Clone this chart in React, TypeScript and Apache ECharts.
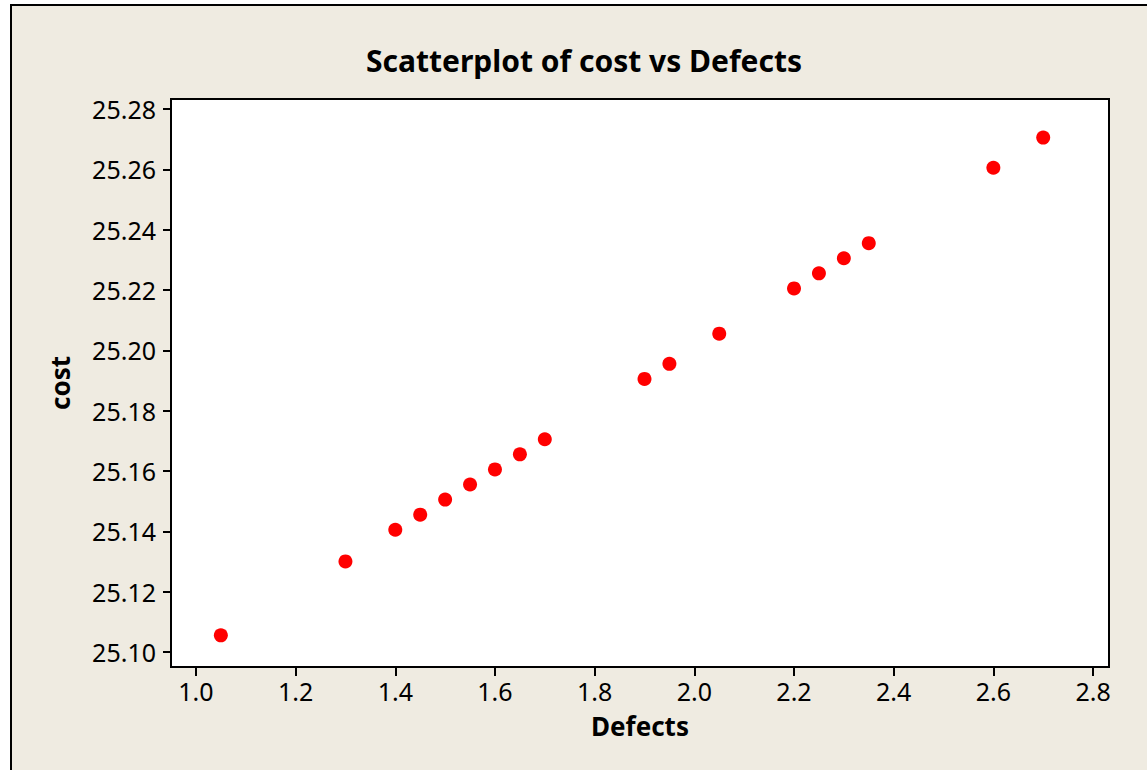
import React, { useEffect, useRef } from "react";
import * as echarts from "echarts";

// Observations: defect rate vs unit cost
const defects: number[] = [1.05, 1.3, 1.4, 1.45, 1.5, 1.55, 1.6, 1.65, 1.7, 1.9, 1.95, 2.05, 2.2, 2.25, 2.3, 2.35, 2.6, 2.7];
const cost: number[] = [25.1055, 25.13, 25.1405, 25.1455, 25.1505, 25.1555, 25.1605, 25.1655, 25.1705, 25.1905, 25.1955, 25.2055, 25.2205, 25.2255, 25.2305, 25.2355, 25.2605, 25.2705];

// Tick positions shown on each axis
const xTicks: number[] = [1.0, 1.2, 1.4, 1.6, 1.8, 2.0, 2.2, 2.4, 2.6, 2.8];
const yTicks: number[] = [25.1, 25.12, 25.14, 25.16, 25.18, 25.2, 25.22, 25.24, 25.26, 25.28];

const FONT = "'Noto Sans', 'DejaVu Sans', sans-serif";
const BEIGE = "#EFEBE1";

export default function App() {
  const ref = useRef<HTMLDivElement>(null);

  useEffect(() => {
    if (!ref.current) return;
    const chart = echarts.init(ref.current, undefined, { renderer: "svg" });
    const points = defects.map((d, i) => [d, cost[i]]);

    chart.setOption({
      animation: false,
      backgroundColor: "#ffffff",
      graphic: [
        {
          type: "rect",
          z: -10,
          shape: { x: 11, y: 5, width: 1300, height: 900 },
          style: { fill: BEIGE, stroke: "#000", lineWidth: 2 },
          silent: true,
        },
        {
          type: "text",
          x: 584,
          y: 60,
          style: {
            text: "Scatterplot of cost vs Defects",
            font: `bold 30px ${FONT}`,
            fill: "#000",
            align: "center",
            verticalAlign: "middle",
          },
        },
      ],
      grid: {
        left: 171,
        top: 99,
        right: 38,
        bottom: 103,
        show: true,
        backgroundColor: "#ffffff",
        borderColor: "#000",
        borderWidth: 2,
      },
      xAxis: {
        type: "value",
        min: 0.95,
        max: 2.832,
        name: "Defects",
        nameLocation: "middle",
        nameGap: 46,
        nameTextStyle: { fontFamily: FONT, fontWeight: "bold", fontSize: 26, color: "#000" },
        axisLine: { show: true, onZero: false, lineStyle: { color: "#000", width: 2 } },
        axisTick: {
          show: true,
          inside: false,
          length: 9,
          customValues: xTicks,
          lineStyle: { color: "#000", width: 2 },
        },
        axisLabel: {
          customValues: xTicks,
          margin: 11,
          fontFamily: FONT,
          fontSize: 25,
          color: "#000",
          formatter: (v: number) => v.toFixed(1),
        },
        splitLine: { show: false },
      },
      yAxis: {
        type: "value",
        min: 25.095,
        max: 25.2833,
        name: "cost",
        nameLocation: "middle",
        nameGap: 98,
        nameRotate: 90,
        nameTextStyle: { fontFamily: FONT, fontWeight: "bold", fontSize: 26, color: "#000" },
        axisLine: { show: true, onZero: false, lineStyle: { color: "#000", width: 2 } },
        axisTick: {
          show: true,
          inside: false,
          length: 8,
          customValues: yTicks,
          lineStyle: { color: "#000", width: 2 },
        },
        axisLabel: {
          customValues: yTicks,
          margin: 15,
          fontFamily: FONT,
          fontSize: 25,
          color: "#000",
          formatter: (v: number) => v.toFixed(2),
        },
        splitLine: { show: false },
      },
      series: [
        {
          type: "scatter",
          data: points,
          symbol: "circle",
          symbolSize: 14,
          itemStyle: { color: "#FF0000", opacity: 1 },
        },
      ],
    });

    return () => chart.dispose();
  }, []);

  return (
    <div
      ref={ref}
      style={{ position: "absolute", left: 0, top: 0, width: 1147, height: 770 }}
    />
  );
}
